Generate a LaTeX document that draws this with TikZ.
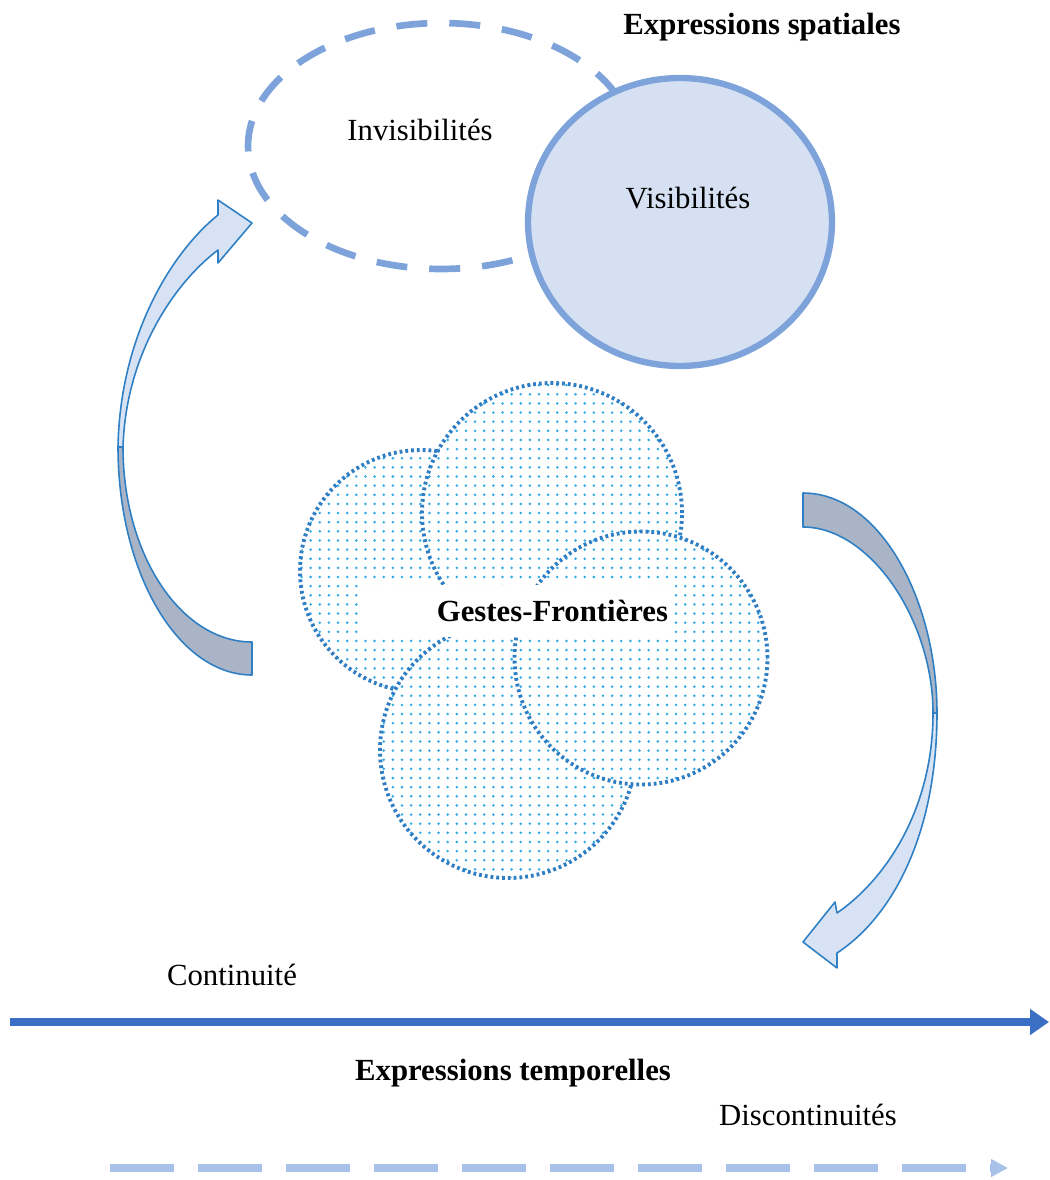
\documentclass[tikz,border=0pt]{standalone}
\usepackage{fontspec}
\setmainfont{Liberation Serif}
\usetikzlibrary{shapes.geometric,patterns.meta,arrows.meta}
\definecolor{ringblue}{HTML}{7EA3DA}
\definecolor{ringfill}{HTML}{D5E1F2}
\definecolor{dotline}{HTML}{2F7DC2}
\definecolor{speck}{HTML}{2FA8E6}
\definecolor{bandedge}{HTML}{2F7FC4}
\definecolor{bandshade}{HTML}{A9B4C6}
\definecolor{bandlight}{HTML}{D7E3F4}
\definecolor{timeblue}{HTML}{3A6FC3}
\definecolor{timelight}{HTML}{A8C1E8}
\tikzstyle{every node}=[font=\fontsize{17.5}{20}\selectfont]
\tikzstyle{bubble}=[circle, draw=dotline, line width=2.2pt, dash pattern=on 1.6pt off 1.7pt, preaction={fill=white}, pattern={Dots[distance=5.2pt,radius=0.8pt]}, pattern color=speck]
\tikzstyle{ghost}=[ellipse, draw=ringblue, line width=3.8pt, dash pattern=on 0.62cm off 0.44cm, minimum width=7.72cm, minimum height=4.92cm]
\tikzstyle{seen}=[ellipse, draw=ringblue, fill=ringfill, line width=3.6pt, minimum width=6.08cm, minimum height=5.76cm]
\tikzstyle{band}=[draw=bandedge, line width=0.9pt, line join=round]
\tikzstyle{title}=[font=\fontsize{17.5}{20}\selectfont\bfseries]
\newcommand{\bubble}{\node[bubble]}

\begin{document}
\begin{tikzpicture}[x=0.02cm, y=-0.02cm]
\useasboundingbox (0,0) rectangle (1050,1180);
\node[ghost] (invis) at (441,146) {};
\node[seen] (vis) at (680,222) {};
\node (invislabel) at (420,130) {Invisibilités};
\node (vislabel) at (688,198) {Visibilités};
\node[title] (spatial) at (762,27) {Expressions spatiales};

\draw[band, fill=bandshade] (252,642) .. controls (181,642) and (123,555) .. (123,447) -- (118,447) .. controls (118,573) and (178,675) .. (252,675) -- cycle;
\draw[band, fill=bandlight] (118,447) .. controls (120,335) and (172,252) .. (218,215) -- (218,200) -- (252,223) -- (218,263) -- (218,250) .. controls (178,280) and (126,350) .. (123,447) -- cycle;
\draw[band, fill=bandshade] (803,493) .. controls (880,493) and (937,600) .. (937,713) -- (933,713) .. controls (933,620) and (870,527) .. (803,527) -- cycle;
\draw[band, fill=bandlight] (937,713) .. controls (937,830) and (895,915) .. (837,953) -- (837,968) -- (803,942) -- (835,902) -- (837,913) .. controls (885,880) and (933,810) .. (933,713) -- cycle;

\bubble[minimum size=4.84cm] (g1) at (421,571) {};
\bubble[minimum size=5.2cm] (g2) at (552,513) {};
\bubble[minimum size=5.12cm] (g4) at (508,750) {};
\bubble[minimum size=5.06cm] (g3) at (641,658) {};
\node[title, fill=white, minimum height=1.04cm, text width=6.04cm, inner xsep=0.08cm, align=right] (gestes) at (517,611) {Gestes-Frontières};

\node (cont) at (232,975) {Continuité};
\coordinate (tstart) at (10,1022);
\coordinate (tend) at (1049,1022);
\draw[timeblue, line width=4.5pt, -{Triangle[length=0.38cm, width=0.5cm]}] (tstart) -- (tend);
\node[title] (temporal) at (513,1073) {Expressions temporelles};
\node (discont) at (808,1115) {Discontinuités};
\coordinate (dstart) at (110,1168);
\coordinate (dend) at (1008,1168);
\draw[timelight, line width=4.2pt, dash pattern=on 1.28cm off 0.48cm, -{Triangle[length=0.34cm, width=0.34cm]}] (dstart) -- (dend);
\end{tikzpicture}
\end{document}
